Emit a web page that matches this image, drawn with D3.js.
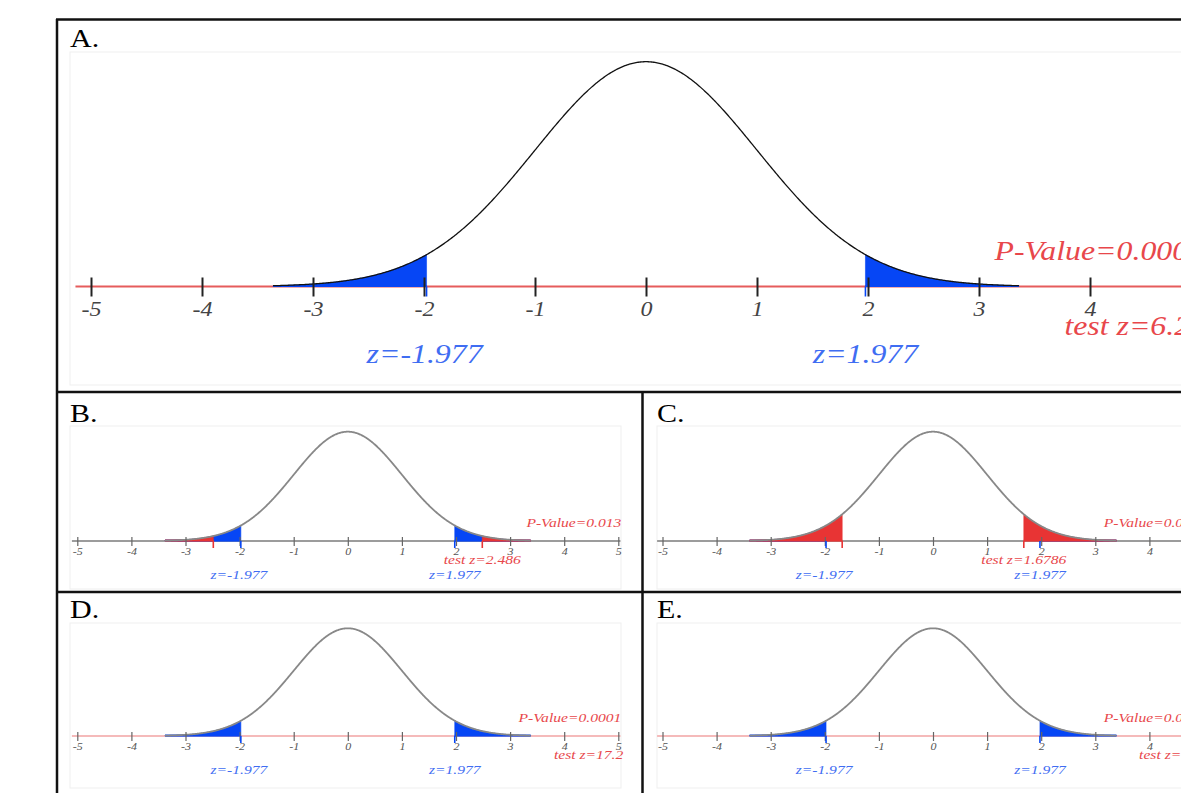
<!DOCTYPE html>
<html><head><meta charset="utf-8">
<script src="https://cdn.jsdelivr.net/npm/d3@7"></script>
<style>html,body{margin:0;padding:0;background:#fff;overflow:hidden}</style>
</head><body><svg id="chart" width="1181" height="793"></svg>
<script>
// ---- data ----
const panelNames = ["A.", "B.", "C.", "D.", "E."];
const criticalZ = [1.977, 1.977, 1.977, 1.977, 1.977];
const testZ = [6.25, 2.486, 1.6786, 17.2, 12.5];
const testZLabels = ["6.25", "2.486", "1.6786", "17.2", "12.5"];
const pValueLabels = ["0.0000", "0.013", "0.0932", "0.0001", "0.0000"];
const tickValues = [-5, -4, -3, -2, -1, 0, 1, 2, 3, 4, 5];
const curveExtent = [3.36, 3.38, 3.39, 3.38, 3.39];

// standard normal density (the curve model)
const density = z => Math.exp(-z * z / 2) / Math.sqrt(2 * Math.PI);

// ---- layout / style ----
const SX = 1.2;
const FONT = "'Liberation Serif','Times New Roman',serif";
const BLUE_FILL = "#0646f5", RED_FILL = "#e83434";
const BLUE_TXT = "#3f6df2", RED_TXT = "#e8474b";
const big = {tickFont: 20, annFont: 26.5, up: 9, down: 10, tickLab: 29, pOff: -26.5, tOff: 48.5, zOff: 76.5,
             tickColor: "#222", tickW: 2, tickLabColor: "#444", curveColor: "#111", curveW: 1.3, markerLen: 10};
const small = {tickFont: 10, annFont: 13, up: 4, down: 5, tickLab: 14, pOff: -14, tOff: 22.5, zOff: 37.5,
             tickColor: "#666", tickW: 1.2, tickLabColor: "#555", curveColor: "#888", curveW: 1.8, markerLen: 7};
const layout = [
  {x0: 646,   unit: 111,  axisY: 286.5, peakY: 61.7,  from: -5.14, to: 6.5,  axisColor: "#e65c5c", axisW: 2,   st: big,   label: [70, 47],   frame: [70, 52, 1300, 385]},
  {x0: 347.8, unit: 54.1, axisY: 541,   peakY: 431.7, from: -5.1,  to: 5.04, axisColor: "#9c9c9c", axisW: 2,   st: small, label: [70, 422],  frame: [70, 426, 621, 589]},
  {x0: 933,   unit: 54.1, axisY: 541,   peakY: 431.7, from: -5.1,  to: 6,    axisColor: "#9c9c9c", axisW: 2,   st: small, label: [657, 422], frame: [657, 426, 1300, 589]},
  {x0: 347.8, unit: 54.1, axisY: 736,   peakY: 628.3, from: -5.1,  to: 5.04, axisColor: "#f2a3a3", axisW: 1.6, st: small, label: [70, 618],  frame: [70, 623, 621, 788]},
  {x0: 933,   unit: 54.1, axisY: 736,   peakY: 628.3, from: -5.1,  to: 6,    axisColor: "#f2a3a3", axisW: 1.6, st: small, label: [657, 618], frame: [657, 623, 1300, 788]}
];

const svg = d3.select("#chart");

function txt(g, x, y, s, size, fill, anchor, italic) {
  return g.append("text")
    .attr("transform", `translate(${x},${y}) scale(${SX},1)`)
    .attr("text-anchor", anchor)
    .style("font-family", FONT)
    .style("font-style", italic ? "italic" : "normal")
    .style("font-size", size + "px")
    .attr("fill", fill)
    .text(s);
}

panelNames.forEach((name, i) => {
  const L = layout[i], st = L.st;
  const g = svg.append("g");
  const x = d3.scaleLinear().domain([0, 1]).range([L.x0, L.x0 + L.unit]);
  const y = d3.scaleLinear().domain([0, density(0)]).range([L.axisY, L.peakY]);
  const ext = curveExtent[i];
  const zs = d3.range(-ext, ext + 1e-9, 0.01);

  // faint image frame
  g.append("rect").attr("x", L.frame[0]).attr("y", L.frame[1])
    .attr("width", L.frame[2] - L.frame[0]).attr("height", L.frame[3] - L.frame[1])
    .attr("fill", "none").attr("stroke", "#efefef").attr("stroke-width", 1);

  // axis line
  g.append("line").attr("x1", x(L.from)).attr("x2", x(L.to))
    .attr("y1", L.axisY).attr("y2", L.axisY)
    .attr("stroke", L.axisColor).attr("stroke-width", L.axisW);

  const area = d3.area().x(d => x(d)).y0(L.axisY).y1(d => y(density(d)));
  const tail = (a, b) => [a, ...zs.filter(z => z > a && z < b), b];

  function shade(a, color) {
    if (a >= ext) return;
    [[a, ext, 1], [a, ext, -1]].forEach(([lo, hi, s]) => {
      const pts = tail(lo, hi).map(z => z * s);
      g.append("path").datum(pts).attr("d", area).attr("fill", color).attr("stroke", color).attr("stroke-width", 0.6);
      g.append("line").attr("x1", x(lo * s)).attr("x2", x(hi * s)).attr("y1", L.axisY - 0.5).attr("y2", L.axisY - 0.5)
        .attr("stroke", color).attr("stroke-width", 2);
    });
  }
  const crit = criticalZ[i], tz = Math.abs(testZ[i]);
  shade(crit, BLUE_FILL);
  shade(tz, RED_FILL);

  // curve
  g.append("path").datum(zs)
    .attr("d", d3.line().x(d => x(d)).y(d => y(density(d))))
    .attr("fill", "none").attr("stroke", st.curveColor).attr("stroke-width", st.curveW);

  // ticks via d3 axis
  const axis = d3.axisBottom(x).tickValues(tickValues).tickFormat(d => String(d)).tickSize(st.down);
  const ag = g.append("g").attr("transform", `translate(0,${L.axisY})`).call(axis);
  ag.select(".domain").remove();
  ag.selectAll(".tick line").attr("y1", -st.up).attr("stroke", st.tickColor).attr("stroke-width", st.tickW);
  ag.selectAll(".tick text")
    .attr("y", null).attr("dy", null)
    .attr("transform", `translate(0,${st.tickLab}) scale(${SX},1)`)
    .attr("fill", st.tickLabColor)
    .style("font-family", FONT).style("font-style", "italic").style("font-size", st.tickFont + "px");

  // markers below the axis
  [-crit, crit].forEach(c => {
    g.append("line").attr("x1", x(c)).attr("x2", x(c)).attr("y1", L.axisY).attr("y2", L.axisY + st.markerLen)
      .attr("stroke", BLUE_FILL).attr("stroke-width", 1.6);
  });
  if (tz <= 5) {
    [-tz, tz].forEach(c => {
      g.append("line").attr("x1", x(c)).attr("x2", x(c)).attr("y1", L.axisY).attr("y2", L.axisY + st.markerLen)
        .attr("stroke", RED_FILL).attr("stroke-width", 1.6);
    });
  }

  // annotations
  const rightEdge = x(5) + 3;
  txt(g, rightEdge, L.axisY + st.pOff, "P-Value=" + pValueLabels[i], st.annFont, RED_TXT, "end", true);
  const t = txt(g, 0, L.axisY + st.tOff, "test z=" + testZLabels[i], st.annFont, RED_TXT, "middle", true);
  const w = t.node().getComputedTextLength() * SX;
  let tx = x(testZ[i]);
  if (tx + w / 2 > x(5) + 5) tx = x(5) + 5 - w / 2;
  t.attr("transform", `translate(${tx},${L.axisY + st.tOff}) scale(${SX},1)`);
  txt(g, x(-crit) - 2, L.axisY + st.zOff, "z=-" + crit, st.annFont, BLUE_TXT, "middle", true);
  txt(g, x(crit), L.axisY + st.zOff, "z=" + crit, st.annFont, BLUE_TXT, "middle", true);

  // panel letter
  txt(g, L.label[0], L.label[1], name, 25, "#000", "start", false);
});

// outer borders
const borders = [
  [56, 19.5, 1181, 19.5], [57, 19, 57, 793],
  [56, 392, 1181, 392], [56, 592, 1181, 592], [642.5, 392, 642.5, 793]
];
svg.append("g").selectAll("line").data(borders).join("line")
  .attr("x1", d => d[0]).attr("y1", d => d[1]).attr("x2", d => d[2]).attr("y2", d => d[3])
  .attr("stroke", "#111").attr("stroke-width", 2.5);
</script>
</body></html>
